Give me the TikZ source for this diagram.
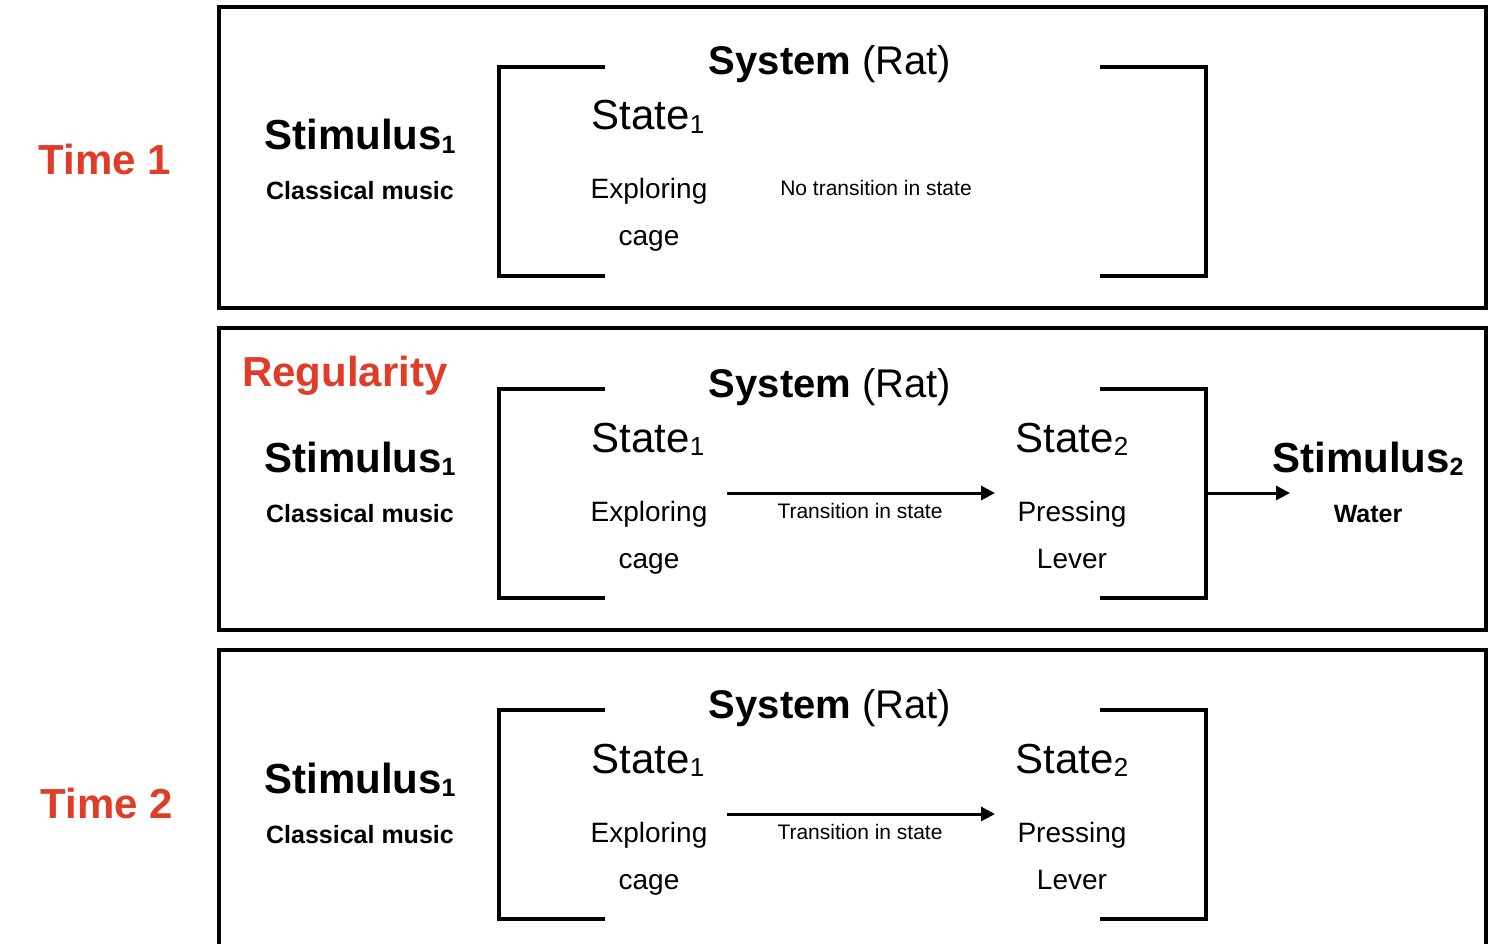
\documentclass[tikz,border=0pt]{standalone}
\usepackage{fontspec}
\setmainfont{Liberation Sans}
\usetikzlibrary{arrows.meta}
\definecolor{timered}{HTML}{E03C28}
\newcommand\idx[2]{{\fontsize{#1}{#1}\selectfont\raisebox{-0.14em}{#2}}}
\begin{document}
\begin{tikzpicture}[x=1pt,y=-1pt,
  frame/.style={line width=4pt},
  brk/.style={line width=4pt},
  conn/.style={line width=3pt,-{Triangle[length=14pt,width=14pt]}},
  txt/.style={inner sep=0pt,anchor=base},
  timelbl/.style={txt,text=timered,font=\fontsize{42}{42}\selectfont\bfseries},
  stimlbl/.style={txt,font=\fontsize{42}{42}\selectfont\bfseries},
  stimsub/.style={txt,font=\fontsize{25}{25}\selectfont\bfseries},
  syslbl/.style={txt,font=\fontsize{40}{40}\selectfont},
  statelbl/.style={txt,font=\fontsize{42}{42}\selectfont},
  statesub/.style={txt,font=\fontsize{28}{28}\selectfont},
  translbl/.style={txt,font=\fontsize{21}{21}\selectfont}]
\useasboundingbox (0,0) rectangle (1502,944);
\fill[white] (0,0) rectangle (1502,944);

% frames
\draw[frame] (219,7) rectangle (1486,308);
\draw[frame] (219,328) rectangle (1486,630);
\draw[frame] (219,950) -- (219,650) -- (1486,650) -- (1486,950);

% left labels
\node[timelbl] (time1) at (105,175) {Time 1};
\node[timelbl] (time2) at (107,818) {Time 2};
\node[timelbl] (reg) at (345,386) {Regularity};

% ---------- panel 1 ----------
\draw[brk] (605,67) -- (499,67) -- (499,276) -- (605,276);
\draw[brk] (1100,67) -- (1206,67) -- (1206,276) -- (1100,276);
\node[syslbl] (sys1) at (830,75) {\textbf{System} (Rat)};
\node[stimlbl] (stimA1) at (360,150) {Stimulus\idx{25}{1}};
\node[stimsub] (musA1) at (360,200) {Classical music};
\node[statelbl] (stA1) at (648,130) {State\idx{26}{1}};
\node[statesub] (expA1) at (649,199) {Exploring};
\node[statesub] (cageA1) at (649,246) {cage};
\node[translbl] (notr1) at (876,196) {No transition in state};

% ---------- panel 2 ----------
\begin{scope}[shift={(0,322)}]
\draw[brk] (605,67) -- (499,67) -- (499,276) -- (605,276);
\draw[brk] (1100,67) -- (1206,67) -- (1206,276) -- (1100,276);
\node[syslbl] (sys2) at (830,75) {\textbf{System} (Rat)};
\node[stimlbl] (stimA2) at (360,150) {Stimulus\idx{25}{1}};
\node[stimsub] (musA2) at (360,200) {Classical music};
\node[statelbl] (stA2) at (648,130) {State\idx{26}{1}};
\node[statesub] (expA2) at (649,199) {Exploring};
\node[statesub] (cageA2) at (649,246) {cage};
\node[statelbl] (stB2) at (1072,130) {State\idx{26}{2}};
\node[statesub] (prB2) at (1072,199) {Pressing};
\node[statesub] (lvB2) at (1072,246) {Lever};
\node[translbl] (tr2) at (860,196) {Transition in state};
\coordinate (trs2) at (727,171);
\coordinate (tre2) at (995,171);
\draw[conn] (trs2) -- (tre2);
\node[stimlbl] (stimB2) at (1368,150) {Stimulus\idx{25}{2}};
\node[stimsub] (water2) at (1368,200) {Water};
\coordinate (brout2) at (1206,171);
\coordinate (stin2) at (1290,171);
\draw[conn] (brout2) -- (stin2);
\end{scope}

% ---------- panel 3 ----------
\begin{scope}[shift={(0,643)}]
\draw[brk] (605,67) -- (499,67) -- (499,276) -- (605,276);
\draw[brk] (1100,67) -- (1206,67) -- (1206,276) -- (1100,276);
\node[syslbl] (sys3) at (830,75) {\textbf{System} (Rat)};
\node[stimlbl] (stimA3) at (360,150) {Stimulus\idx{25}{1}};
\node[stimsub] (musA3) at (360,200) {Classical music};
\node[statelbl] (stA3) at (648,130) {State\idx{26}{1}};
\node[statesub] (expA3) at (649,199) {Exploring};
\node[statesub] (cageA3) at (649,246) {cage};
\node[statelbl] (stB3) at (1072,130) {State\idx{26}{2}};
\node[statesub] (prB3) at (1072,199) {Pressing};
\node[statesub] (lvB3) at (1072,246) {Lever};
\node[translbl] (tr3) at (860,196) {Transition in state};
\coordinate (trs3) at (727,171);
\coordinate (tre3) at (995,171);
\draw[conn] (trs3) -- (tre3);
\end{scope}
\end{tikzpicture}
\end{document}
